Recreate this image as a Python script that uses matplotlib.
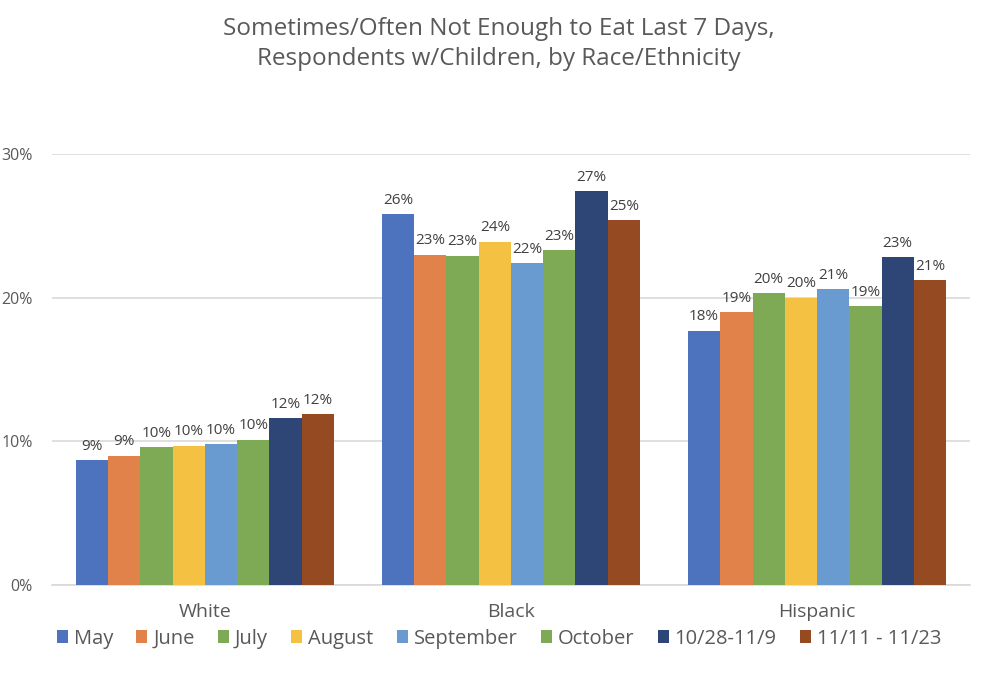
import matplotlib
matplotlib.use("Agg")
import matplotlib.pyplot as plt
import numpy as np

categories = ["White", "Black", "Hispanic"]
series_names = ["May", "June", "July", "August", "September", "October", "10/28-11/9", "11/11 - 11/23"]
may = [8.7, 25.8, 17.7]
june = [9.0, 23.0, 19.0]
july = [9.6, 22.9, 20.3]
august = [9.7, 23.9, 20.0]
september = [9.8, 22.4, 20.6]
october = [10.1, 23.3, 19.4]
oct28_nov9 = [11.6, 27.4, 22.8]
nov11_nov23 = [11.9, 25.4, 21.2]
yticks = [0, 10, 20, 30]

series_values = [may, june, july, august, september, october, oct28_nov9, nov11_nov23]
colors = ["#4E73BE", "#E0824A", "#7EAA55", "#F5C143", "#6A9BD0", "#7EAA55", "#2D4675", "#954A22"]

plt.rcParams["font.family"] = ["Open Sans", "DejaVu Sans"]
text_color = "#595959"

fig = plt.figure(figsize=(9.98, 6.78), dpi=100)
ax = fig.add_axes([0.052, 0.137, 0.920, 0.636])

n = len(series_values)
x = np.arange(len(categories))
group_w = 0.843
bw = group_w / n
for i, (vals, c, name) in enumerate(zip(series_values, colors, series_names)):
    pos = x - group_w / 2 + bw * (i + 0.5)
    bars = ax.bar(pos, vals, width=bw, color=c, label=name, zorder=3)
    for b, v in zip(bars, vals):
        ax.text(b.get_x() + b.get_width() / 2, v + 0.45, f"{round(v):.0f}%",
                ha="center", va="bottom", fontsize=11, color="#404040")

ax.set_xlim(-0.5, len(categories) - 0.5)
ax.set_ylim(0, 30)
ax.set_yticks(yticks)
ax.set_yticklabels([f"{t}%" for t in yticks])
ax.yaxis.grid(True, color="#D9D9D9", linewidth=1.2, zorder=0)
ax.tick_params(axis="y", length=0, labelsize=11.5, labelcolor=text_color, pad=14)
ax.set_xticks(x)
ax.set_xticklabels(categories)
ax.tick_params(axis="x", length=0, labelsize=14, labelcolor=text_color, pad=13)
for s in ["top", "right", "left"]:
    ax.spines[s].set_visible(False)
ax.spines["bottom"].set_color("#D9D9D9")
ax.spines["bottom"].set_linewidth(1.2)

fig.suptitle("Sometimes/Often Not Enough to Eat Last 7 Days,\nRespondents w/Children, by Race/Ethnicity",
             y=0.975, fontsize=17.5, color=text_color, linespacing=1.35)

leg = fig.legend(loc="center", bbox_to_anchor=(0.5, 0.058), ncol=8, frameon=False,
                 fontsize=14.5, handlelength=0.55, handleheight=0.55, handletextpad=0.3,
                 columnspacing=1.15)
for t in leg.get_texts():
    t.set_color(text_color)

fig.savefig("out.png", dpi=100)
